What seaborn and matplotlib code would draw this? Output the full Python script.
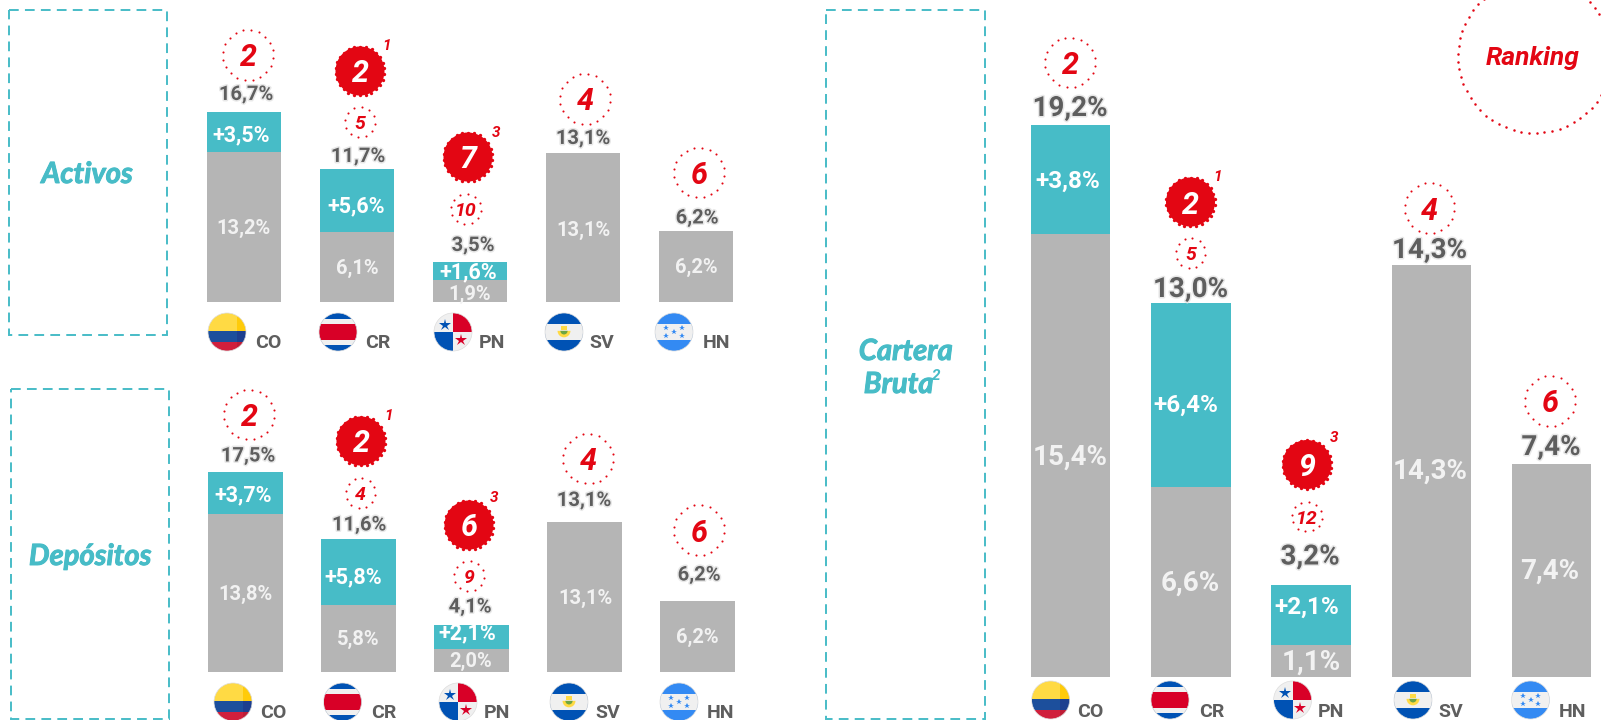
import numpy as np
import pandas as pd
import matplotlib
matplotlib.use('Agg')
import matplotlib.pyplot as plt
import matplotlib.patheffects as pe
from matplotlib.patches import Circle, Rectangle, Wedge
import seaborn as sns

sns.set_style('white')
plt.rcParams['font.family'] = ['Roboto', 'DejaVu Sans']

# Data
countries = ['CO', 'CR', 'PN', 'SV', 'HN']

activos_base = [13.2, 6.1, 1.9, 13.1, 6.2]
activos_growth = [3.5, 5.6, 1.6, 0, 0]
activos_rank = [2, 2, 7, 4, 6]
activos_rank_before = [None, 5, 10, None, None]
activos_note = [None, 1, 3, None, None]

depositos_base = [13.8, 5.8, 2.0, 13.1, 6.2]
depositos_growth = [3.7, 5.8, 2.1, 0, 0]
depositos_rank = [2, 2, 6, 4, 6]
depositos_rank_before = [None, 4, 9, None, None]
depositos_note = [None, 1, 3, None, None]

cartera_base = [15.4, 6.6, 1.1, 14.3, 7.4]
cartera_growth = [3.8, 6.4, 2.1, 0, 0]
cartera_rank = [2, 2, 9, 4, 6]
cartera_rank_before = [None, 5, 12, None, None]
cartera_note = [None, 1, 3, None, None]

# Colours
TEAL = '#47BCC7'
GREY = '#B5B5B5'
DARK = '#5E5E5E'
RED = '#E30613'

W, H = 1601, 720

# Layout in pixels of the picture
activos_layout = dict(
    first=244, step=113, width=74, base=302, scale=11.4,
    total=[(246, 94.5), (358, 156.5), (473, 245.5), (583, 138.5), (697, 218)],
    rank=[(248, 55), (360, 71), (468, 157), (585, 99), (699, 172.5)],
    before=[None, (360, 122), (466, 209), None, None],
    note=[None, (387, 46), (496, 133), None, None],
    top=[(241.6, 135.5), (356, 206.5), (468, 272), None, None],
    low=[(244, 228.5), (357, 268), (470, 294.5), (583, 230), (696, 267.5)],
    flag=[(227, 332), (338, 332), (453, 332), (564, 332), (674, 332)],
    code=[(268, 343.5), (378, 343.5), (492, 343.5), (602, 343.5), (716, 343.5)],
)
depositos_layout = dict(
    first=245.5, step=113, width=74.5, base=671.5, scale=11.4,
    total=[(248, 456), (359, 525), (470, 607), (584, 500.5), (699, 575)],
    rank=[(249, 414.5), (361, 441), (469, 525), (588, 458.7), (699, 530)],
    before=[None, (360.5, 493), (469, 576), None, None],
    note=[None, (389, 415.5), (494, 497.7), None, None],
    top=[(243, 495), (353, 577), (467, 633.5), None, None],
    low=[(245, 594), (358.5, 639), (471, 661), (585, 598), (697, 637.5)],
    flag=[(233, 702), (342.5, 702), (458, 702), (569, 702), (679, 702)],
    code=[(273, 713), (384, 713), (497, 713), (608, 713), (721, 713)],
)
cartera_layout = dict(
    first=1070.5, step=120.3, width=79.5, base=676.5, scale=28.75,
    total=[(1070, 108.5), (1190.5, 289.5), (1310, 557), (1429.5, 250.5), (1551, 447.5)],
    rank=[(1070, 62.3), (1190.5, 202), (1307, 464.5), (1429.5, 208), (1550, 401)],
    before=[None, (1190.5, 253), (1307, 516.6), None, None],
    note=[None, (1218, 176.6), (1334, 438), None, None],
    top=[(1068, 181), (1185.4, 405), (1306.5, 607.5), None, None],
    low=[(1070, 457.5), (1190.5, 583), (1311, 662.5), (1430.5, 471.5), (1550, 571)],
    flag=[(1050.6, 700), (1170, 700), (1292.6, 700), (1413, 700), (1530.5, 700)],
    code=[(1090, 712), (1212, 712), (1331, 712), (1451, 712), (1572, 712)],
)


def pct(value, plus=False):
    text = f'{value:.1f}%'.replace('.', ',')
    return '+' + text if plus else text


def dotted_circle(ax, cx, cy, r, n, ms=1.5, zorder=5):
    angles = np.linspace(0, 2 * np.pi, n, endpoint=False) + 0.13
    ax.plot(cx + r * np.cos(angles), cy + r * np.sin(angles), 'o', color=RED,
            ms=ms, mew=0, zorder=zorder, clip_on=True)


def rank_badge(ax, xy, value, solid, r=25, size=22):
    cx, cy = xy
    if solid:
        ax.add_patch(Circle(xy, r - 0.5, fc=RED, ec='none', zorder=5))
        dotted_circle(ax, cx, cy, r - 0.5, 26, ms=2.4)
    else:
        dotted_circle(ax, cx, cy, r, int(2 * np.pi * r / 7.8))
    ax.text(cx, cy, str(value), color='white' if solid else RED, fontsize=size,
            fontweight='bold', style='italic', ha='center', va='center_baseline', zorder=6)


def star(ax, x, y, color, ms):
    ax.plot([x], [y], marker='*', color=color, ms=ms, mew=0, zorder=4)


def draw_flag(ax, code, xy, r=19):
    cx, cy = xy
    clip = Circle(xy, r, transform=ax.transData)

    def band(y0, y1, color, x0=0.0, x1=1.0):
        rect = Rectangle((cx - r + 2 * r * x0, cy - r + 2 * r * y0), 2 * r * (x1 - x0),
                         2 * r * (y1 - y0), fc=color, ec='none', zorder=3)
        ax.add_patch(rect)
        rect.set_clip_path(clip)

    if code == 'CO':
        band(0, 0.48, '#FFDA44')
        band(0, 0.48, '#FFCB0A', 0.76, 1)
        band(0.48, 0.76, '#1C4F9C')
        band(0.48, 0.76, '#1D3F8F', 0.76, 1)
        band(0.76, 1, '#D01F3C')
        band(0.76, 1, '#BE1C36', 0.76, 1)
    elif code == 'CR':
        band(0, 1, '#0052B4')
        band(0.15, 0.85, '#F0F0F0')
        band(0.30, 0.70, '#D80027')
    elif code == 'PN':
        band(0, 1, '#F0F0F0')
        band(0, 0.5, '#D80027', 0.5, 1)
        band(0.5, 1, '#0052B4', 0, 0.5)
        star(ax, cx - 0.4 * r, cy - 0.36 * r, '#0052B4', r * 0.48)
        star(ax, cx + 0.4 * r, cy + 0.4 * r, '#D80027', r * 0.48)
    elif code == 'SV':
        band(0, 1, '#0052B4')
        band(0.30, 0.70, '#F0F0F0')
        ax.add_patch(Wedge((cx, cy - 0.06 * r), r * 0.34, 0, 180, fc='#FFDA44', ec='none', zorder=4))
        ax.add_patch(Wedge((cx, cy - 0.06 * r), r * 0.19, 0, 180, fc='#6DA544', ec='none', zorder=4))
        band(0.34, 0.44, '#FFDA44', 0.43, 0.57)
    else:
        band(0, 1, '#338AF3')
        band(0.30, 0.70, '#F0F0F0')
        for dx, dy in [(-0.4, -0.22), (0.4, -0.22), (0, 0), (-0.4, 0.22), (0.4, 0.22)]:
            star(ax, cx + dx * r, cy + dy * r, '#338AF3', r * 0.22)
    ax.add_patch(Circle(xy, r, fc='none', ec='#DDDDDD', lw=0.5, zorder=4))


def draw_panel(fig, over, base, growth, rank, before, note, lay, sizes):
    # bars go through seaborn on their own axes, only the scale is fixed here
    left = lay['first'] - lay['step'] / 2
    width = lay['step'] * len(countries)
    ax = fig.add_axes([left / W, 1 - lay['base'] / H, width / W, lay['base'] / H])
    total = np.round(np.array(base) + np.array(growth), 1)
    data = pd.DataFrame({'country': countries, 'base': base, 'total': total})
    frac = lay['width'] / lay['step']
    sns.barplot(data=data, x='country', y='total', color=TEAL, saturation=1,
                width=frac, linewidth=0, ax=ax)
    sns.barplot(data=data, x='country', y='base', color=GREY, saturation=1,
                width=frac, linewidth=0, ax=ax)
    ax.set_xlim(-0.5, len(countries) - 0.5)
    ax.set_ylim(0, lay['base'] / lay['scale'])
    ax.axis('off')

    halo = [pe.withStroke(linewidth=2.2, foreground='#E8E8E8')]
    for i, code in enumerate(countries):
        over.text(*lay['total'][i], pct(total[i]), color=DARK, fontsize=sizes['total'],
                  fontweight='bold', ha='center', va='center', path_effects=halo, zorder=6)
        over.text(*lay['low'][i], pct(base[i]), color='#F2F2F2', fontsize=sizes['total'],
                  fontweight='bold', ha='center', va='center', zorder=6)
        if lay['top'][i]:
            over.text(*lay['top'][i], pct(growth[i], plus=True), color='white',
                      fontsize=sizes['growth'], fontweight='bold', ha='center',
                      va='center', zorder=6)
        rank_badge(over, lay['rank'][i], rank[i], note[i] is not None, size=sizes['rank'])
        if before[i] is not None:
            rank_badge(over, lay['before'][i], before[i], False, r=15, size=sizes['before'])
        if note[i] is not None:
            over.text(*lay['note'][i], str(note[i]), color=RED, fontsize=11, fontweight='bold',
                      style='italic', ha='center', va='center', zorder=6)
        draw_flag(over, code, lay['flag'][i])
        over.text(*lay['code'][i], code, color=DARK, fontsize=sizes['code'], fontweight='bold',
                  ha='center', va='center', zorder=6)


fig = plt.figure(figsize=(W / 100, H / 100), dpi=100)
over = fig.add_axes([0, 0, 1, 1], zorder=10)
over.set_xlim(0, W)
over.set_ylim(H, 0)
over.axis('off')
over.patch.set_alpha(0)

small = dict(total=14.5, growth=15.5, rank=22, before=14, code=14)
big = dict(total=20, growth=17.5, rank=22, before=14, code=14)
draw_panel(fig, over, activos_base, activos_growth, activos_rank, activos_rank_before,
           activos_note, activos_layout, small)
draw_panel(fig, over, depositos_base, depositos_growth, depositos_rank, depositos_rank_before,
           depositos_note, depositos_layout, small)
draw_panel(fig, over, cartera_base, cartera_growth, cartera_rank, cartera_rank_before,
           cartera_note, cartera_layout, big)

# Dashed boxes
for x0, y0, x1, y1 in [(9, 10, 167, 335), (11, 389, 169, 719), (826, 10, 985, 719)]:
    over.add_patch(Rectangle((x0, y0), x1 - x0, y1 - y0, fc='none', ec=TEAL, lw=1.4,
                             ls=(0, (5, 3.2)), zorder=2))

# Lato bold comes out light here, a thin stroke brings the weight up
fat = [pe.withStroke(linewidth=0.7, foreground=TEAL)]
title_font = dict(color=TEAL, fontsize=21, fontweight='bold', style='italic', ha='center',
                  va='center', family=['Lato', 'DejaVu Sans'], path_effects=fat)
over.text(87, 175, 'Activos', **title_font)
over.text(90, 557, 'Depósitos', **title_font)
over.text(905.6, 352, 'Cartera', **title_font)
over.text(898.5, 385, 'Bruta', **title_font)
over.text(936, 376, '2', color=TEAL, fontsize=11, fontweight='bold', style='italic',
          ha='center', va='center')

# Ranking legend
dotted_circle(over, 1535, 56, 77, 62, ms=1.8)
over.text(1533, 58, 'Ranking', color=RED, fontsize=19, fontweight='bold', style='italic',
          ha='center', va='center', zorder=6)

fig.savefig('out.png', dpi=100)
